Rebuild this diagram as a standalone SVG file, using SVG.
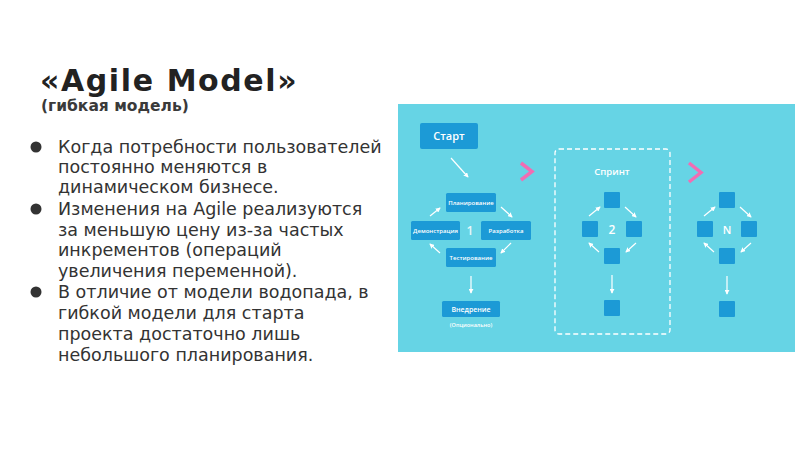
<svg xmlns="http://www.w3.org/2000/svg" width="800" height="450" viewBox="0 0 800 450">
<defs>
<marker id="ah" viewBox="0 0 6 6" refX="5" refY="3" markerWidth="5" markerHeight="5" orient="auto" markerUnits="userSpaceOnUse">
<path d="M0,0 L6,3 L0,6 z" fill="#ffffff"/>
</marker>
<style>
.title{font-family:"DejaVu Sans",sans-serif;font-weight:bold;fill:#222;}
.sub{font-family:"DejaVu Sans",sans-serif;font-weight:bold;font-size:15.5px;fill:#3a3a3a;}
.body{font-family:"DejaVu Sans",sans-serif;font-size:17.5px;fill:#333;}
.box{fill:#1c9ad6;}
.lbl{font-family:"Open Sans",sans-serif;font-size:6px;fill:#fff;text-anchor:middle;font-weight:600;}
.wt{font-family:"Open Sans",sans-serif;fill:#fff;text-anchor:middle;font-weight:600;}
.arr{stroke:#fff;stroke-width:1.2;fill:none;marker-end:url(#ah);}
.chev{stroke:#f16db3;stroke-width:3.5;fill:none;stroke-linejoin:miter;}
</style>
</defs>
<rect width="800" height="450" fill="#ffffff"/>
<g id="title">
<text class="title" x="40" y="91" font-size="30" letter-spacing="1.6">«Agile Model»</text>
<text class="sub" x="41" y="111">(гибкая модель)</text>
</g>
<g id="bullets">
<circle cx="36" cy="147" r="5.5" fill="#333"/>
<circle cx="36" cy="209" r="5.5" fill="#333"/>
<circle cx="36" cy="292" r="5.5" fill="#333"/>
<text class="body" x="58" y="153">Когда потребности пользователей</text>
<text class="body" x="58" y="173">постоянно меняются в</text>
<text class="body" x="58" y="193">динамическом бизнесе.</text>
<text class="body" x="58" y="215">Изменения на Agile реализуются</text>
<text class="body" x="58" y="236">за меньшую цену из-за частых</text>
<text class="body" x="58" y="256">инкрементов (операций</text>
<text class="body" x="58" y="277">увеличения переменной).</text>
<text class="body" x="58" y="298">В отличие от модели водопада, в</text>
<text class="body" x="58" y="319">гибкой модели для старта</text>
<text class="body" x="58" y="340">проекта достаточно лишь</text>
<text class="body" x="58" y="361">небольшого планирования.</text>
</g>
<rect id="panel" x="398" y="104" width="397" height="248" fill="#66d4e5"/>
<g id="start"><rect class="box" x="420" y="123" width="58" height="26" rx="2"/><text class="wt" x="449" y="140" font-size="11">Старт</text></g>
<g id="plan"><rect class="box" x="446" y="193" width="50" height="19" rx="1.5"/><text class="lbl" x="471" y="204.5">Планирование</text></g>
<g id="demo"><rect class="box" x="411" y="221" width="49" height="19" rx="1.5"/><text class="lbl" x="435.5" y="232.5">Демонстрация</text></g>
<g id="dev"><rect class="box" x="481" y="221" width="50" height="19" rx="1.5"/><text class="lbl" x="506" y="232.5">Разработка</text></g>
<g id="test"><rect class="box" x="446" y="248" width="50" height="19" rx="1.5"/><text class="lbl" x="471" y="259.5">Тестирование</text></g>
<text class="wt" x="470" y="235" font-size="12" fill-opacity="0.85">1</text>
<g id="deploy"><rect class="box" x="442" y="301" width="58" height="16" rx="1.5"/><text class="wt" x="471" y="312" font-size="7">Внедрение</text><text class="wt" x="471" y="327" font-size="5.5" font-weight="400">(Опционально)</text></g>
<g id="sprint">
<rect x="555" y="149" width="115" height="185" rx="4" fill="none" stroke="#fff" stroke-width="1.3" stroke-dasharray="5,3"/>
<text class="wt" x="612" y="175" font-size="9.5">Спринт</text>
<rect class="box" x="604" y="192" width="16" height="16" rx="1"/>
<rect class="box" x="582" y="221" width="16" height="16" rx="1"/>
<rect class="box" x="626" y="221" width="16" height="16" rx="1"/>
<rect class="box" x="604" y="248" width="16" height="16" rx="1"/>
<rect class="box" x="604" y="300" width="16" height="16" rx="1"/>
<text class="wt" x="612" y="233.5" font-size="12">2</text>
</g>
<g id="sprintN">
<rect class="box" x="719" y="192" width="16" height="16" rx="1"/>
<rect class="box" x="697" y="221" width="16" height="16" rx="1"/>
<rect class="box" x="741" y="221" width="16" height="16" rx="1"/>
<rect class="box" x="719" y="248" width="16" height="16" rx="1"/>
<rect class="box" x="719" y="301" width="16" height="16" rx="1"/>
<text class="wt" x="727" y="233.5" font-size="11">N</text>
</g>
<g id="chevrons">
<path class="chev" d="M521,163 L532,171.5 L521,180"/>
<path class="chev" d="M689,163 L701,172.5 L689,182"/>
</g>
<g id="connectors">
<line class="arr" x1="451" y1="158" x2="468" y2="177"/>
<line class="arr" x1="501" y1="207" x2="512" y2="217"/>
<line class="arr" x1="511" y1="243" x2="501" y2="253"/>
<line class="arr" x1="440" y1="253" x2="430" y2="244"/>
<line class="arr" x1="430" y1="216" x2="440" y2="208"/>
<line class="arr" x1="471" y1="276" x2="471" y2="293"/>
<line class="arr" x1="589" y1="216" x2="600" y2="207"/>
<line class="arr" x1="625" y1="207" x2="636" y2="217"/>
<line class="arr" x1="636" y1="243" x2="626" y2="252"/>
<line class="arr" x1="599" y1="252" x2="589" y2="243"/>
<line class="arr" x1="612" y1="275" x2="612" y2="293"/>
<line class="arr" x1="704" y1="216" x2="715" y2="207"/>
<line class="arr" x1="740" y1="207" x2="751" y2="217"/>
<line class="arr" x1="751" y1="243" x2="741" y2="252"/>
<line class="arr" x1="714" y1="252" x2="704" y2="243"/>
<line class="arr" x1="727" y1="276" x2="727" y2="294"/>
</g>
</svg>
